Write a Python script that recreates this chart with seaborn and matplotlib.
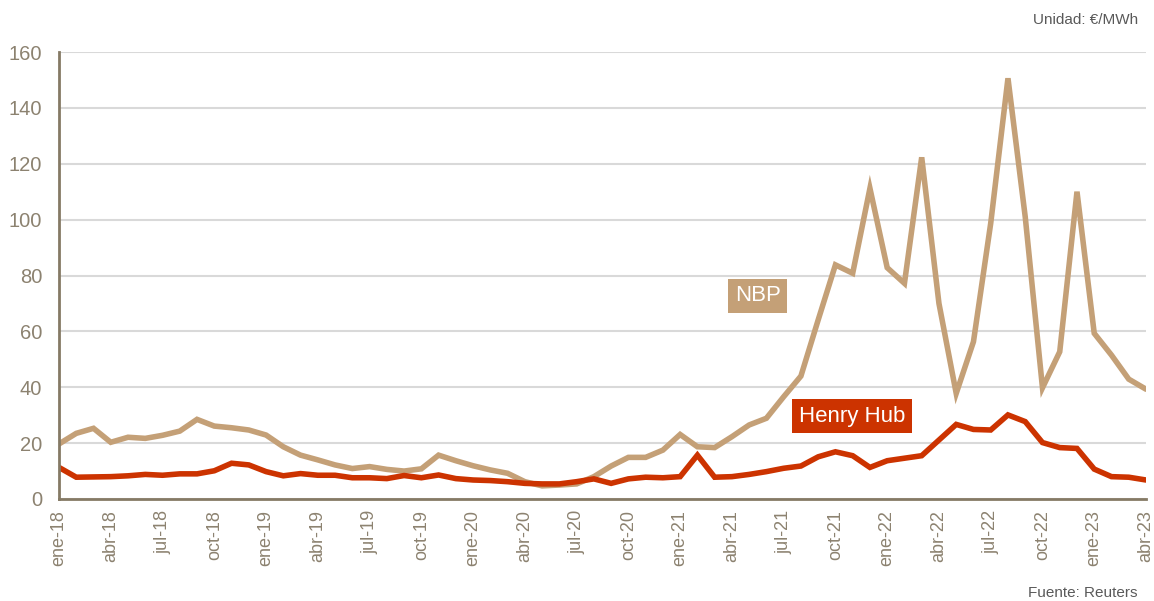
import matplotlib
matplotlib.use("Agg")
import matplotlib.pyplot as plt
import seaborn as sns
import pandas as pd

# Monthly spot prices, ene-18 .. abr-23 (€/MWh)
meses_es = ["ene", "feb", "mar", "abr", "may", "jun", "jul", "ago", "sep", "oct", "nov", "dic"]
months = [f"{meses_es[i % 12]}-{18 + i // 12}" for i in range(64)]

nbp = [19.7, 23.5, 25.3, 20.3, 22.1, 21.7, 22.8, 24.3, 28.5, 26.1, 25.5, 24.7,
       22.9, 18.7, 15.7, 14.0, 12.2, 10.9, 11.6, 10.6, 10.0, 10.8, 15.7, 13.7,
       11.9, 10.4, 9.2, 6.2, 4.7, 5.0, 5.4, 8.0, 11.8, 14.9, 14.9, 17.5,
       23.1, 18.7, 18.4, 22.3, 26.5, 28.9, 36.6, 44.0, 64.1, 83.8, 80.8, 111.2,
       82.8, 77.2, 122.3, 70.0, 37.8, 56.3, 98.7, 150.6, 101.0, 39.8, 52.7, 110.0,
       59.3, 51.5, 42.9, 39.3]

henry_hub = [11.3, 7.8, 7.9, 8.0, 8.3, 8.8, 8.5, 9.0, 9.0, 10.1, 12.8, 12.2,
             9.8, 8.3, 9.1, 8.5, 8.5, 7.6, 7.6, 7.3, 8.4, 7.6, 8.6, 7.3,
             6.8, 6.6, 6.2, 5.6, 5.4, 5.4, 6.2, 7.2, 5.6, 7.2, 7.8, 7.6,
             8.0, 15.7, 7.8, 8.0, 8.8, 9.8, 11.0, 11.8, 15.1, 16.9, 15.5, 11.3,
             13.7, 14.6, 15.5, 21.1, 26.7, 24.9, 24.7, 30.1, 27.7, 20.2, 18.4, 18.1,
             10.7, 8.0, 7.8, 6.8]

series_names = ["NBP", "Henry Hub"]
series_colors = ["#C4A077", "#CC3300"]
y_ticks = [0, 20, 40, 60, 80, 100, 120, 140, 160]

df = pd.DataFrame({
    "idx": list(range(len(months))) * 2,
    "precio": nbp + henry_hub,
    "serie": ["NBP"] * len(nbp) + ["Henry Hub"] * len(henry_hub),
})

sns.set_theme(style="white")
plt.rcParams["font.family"] = ["Liberation Sans", "DejaVu Sans"]

text_col = "#8C8270"
spine_col = "#857A65"

fig = plt.figure(figsize=(11.54, 6.01), dpi=100)
ax = fig.add_axes([59 / 1154, 102 / 601, (1146 - 59) / 1154, 447 / 601])

sns.lineplot(data=df, x="idx", y="precio", hue="serie", hue_order=series_names,
             palette=dict(zip(series_names, series_colors)), linewidth=4.0,
             legend=False, ax=ax, solid_joinstyle="miter")

ax.set_xlim(0, len(months) - 1)
ax.set_ylim(0, 160)
ax.set_yticks(y_ticks)
ax.set_yticklabels([str(v) for v in y_ticks], fontsize=14.5, color=text_col)
xt = list(range(0, len(months), 3))
ax.set_xticks(xt)
ax.set_xticklabels([months[i] for i in xt], rotation=90, fontsize=13, color=text_col)
ax.tick_params(axis="x", length=0, pad=8)
ax.tick_params(axis="y", length=0, pad=12)
ax.set_xlabel("")
ax.set_ylabel("")

ax.yaxis.grid(True, color="#D9D9D9", linewidth=1.5)
ax.xaxis.grid(False)
for s in ["top", "right"]:
    ax.spines[s].set_visible(False)
for s in ["left", "bottom"]:
    ax.spines[s].set_color(spine_col)
    ax.spines[s].set_linewidth(2)
ax.set_axisbelow(True)

ax.text(40.5, 72.7, "NBP", fontsize=16, color="white", ha="center", va="center",
        bbox=dict(boxstyle="square,pad=0.3", fc=series_colors[0], ec="none"))
ax.text(45.95, 29.7, "Henry Hub", fontsize=16, color="white", ha="center", va="center",
        bbox=dict(boxstyle="square,pad=0.3", fc=series_colors[1], ec="none"))

fig.text(1138 / 1154, 1 - 20 / 601, "Unidad: €/MWh", fontsize=11, color="#595959",
         ha="right", va="center")
fig.text(1138 / 1154, 1 - 593 / 601, "Fuente: Reuters", fontsize=11, color="#595959",
         ha="right", va="center")

fig.savefig("out.png", dpi=100)
